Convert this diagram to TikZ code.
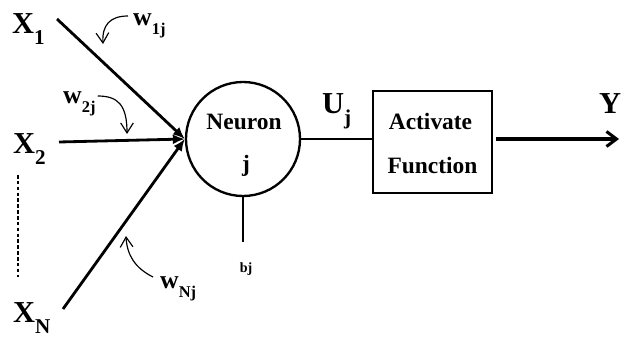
\documentclass[tikz,border=0pt]{standalone}
\usepackage{fontspec}
\setmainfont{Liberation Serif}
\usetikzlibrary{arrows.meta, positioning, calc}
\newcommand{\fsz}[1]{\fontsize{#1}{#1}\selectfont}
\newcommand{\dn}[2]{\raisebox{-0.8ex}{\fsz{#1}#2}}
\tikzset{
  % etichette grandi (ingressi, uscita, U)
  biglbl/.style={font=\fsz{26}\bfseries, inner sep=0pt},
  % pesi
  wlbl/.style={font=\fsz{22}\bfseries, inner sep=0pt},
  % testo dentro neurone e scatola
  boxtxt/.style={font=\fsz{20}\bfseries, inner sep=0pt},
  % collegamenti
  inwire/.style={line width=2.4pt, -{Latex[length=3.6mm,width=3mm]}},
  wcurve/.style={line width=1pt, -{Straight Barb[length=3mm,width=3.8mm]}},
}

\begin{document}
\begin{tikzpicture}[x=0.03cm, y=-0.03cm]
  \useasboundingbox (0,0) rectangle (621,336);
  % neurone
  \node[circle, draw, line width=2pt, minimum size=3.42cm, inner sep=0pt] (neuron) at (243,139) {};
  \node[boxtxt] (nname) at ($(neuron.center)+(1,-17.5)$) {Neuron};
  \node[boxtxt] (nidx) at ($(neuron.center)+(3,27)$) {j};
  % funzione di attivazione
  \node[draw, line width=1.6pt, minimum width=3.57cm, minimum height=3.06cm] (actf) at (432.5,142) {};
  \node[boxtxt] (act) at ($(actf.center)+(-2,-20.5)$) {Activate};
  \node[boxtxt] (fun) at ($(actf.center)+(0,24)$) {Function};
  \draw[line width=2pt] (neuron.east) -- (neuron.east -| actf.west);
  \node[biglbl, anchor=base west] (uj) at (322,113) {U\dn{18}{j}};
  % uscita
  \coordinate (yend) at (619,139);
  \draw[line width=2.6pt, -{Straight Barb[length=3mm,width=4.5mm]}] ($(actf.east |- yend)+(3,0)$) -- (yend);
  \node[biglbl, anchor=base] (yout) at (610,113) {Y};
  % soglia
  \coordinate (bend) at (243,242);
  \draw[line width=1pt] (neuron.south) -- (bend);
  \node[font=\fsz{12}\bfseries, inner sep=0pt, anchor=base] (bj) at (246,272) {bj};
  % ingressi
  \node[biglbl, anchor=base west] (x1) at (12,33) {X\dn{18}{1}};
  \node[biglbl, anchor=base west] (x2) at (13,153) {X\dn{18}{2}};
  \node[biglbl, anchor=base west] (xn) at (13,322) {X\dn{18}{N}};
  \coordinate (in1) at (57,19);
  \coordinate (in2) at (59,142);
  \coordinate (inN) at (63,309);
  \draw[inwire] (in1) -- (neuron.west);
  \draw[inwire] (in2) -- (neuron.west);
  \draw[inwire] (inN) -- (neuron.west);
  \draw[line width=1.2pt, dash pattern=on 3pt off 2pt] (18,175) -- (18,277);
  % pesi
  \node[wlbl, anchor=base west] (w1) at (133,25) {w\dn{14}{1j}};
  \node[wlbl, anchor=base west] (w2) at (63,103) {w\dn{14}{2j}};
  \node[wlbl, anchor=base west] (wn) at (160,288) {w\dn{14}{Nj}};
  \draw[wcurve] ($(w1.base west)+(-5,-9)$) .. controls (110,16) and (102,25) .. (103,44);
  \draw[wcurve] ($(w2.base east)+(2,-7)$) .. controls (118,96) and (127,105) .. (127,134);
  \draw[wcurve] ($(wn.base west)+(-7,-11)$) .. controls (135,268) and (127,255) .. (126,236);
\end{tikzpicture}
\end{document}
